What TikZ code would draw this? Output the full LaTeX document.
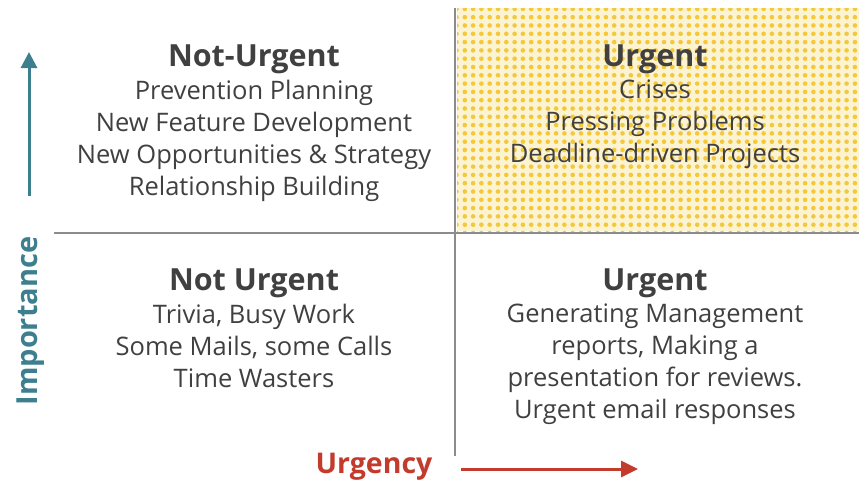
\documentclass[tikz,border=0pt]{standalone}
\usepackage{fontspec}
\setmainfont{Open Sans}
\usepackage{tikz}
\usetikzlibrary{patterns.meta,positioning,arrows.meta}
\definecolor{txtgray}{HTML}{404040}
\definecolor{axisteal}{HTML}{3D7F8E}
\definecolor{axisred}{HTML}{C23B2D}
\definecolor{gridgray}{HTML}{8C8C8C}
\definecolor{dotyellow}{HTML}{F3C83A}
\definecolor{paleyellow}{HTML}{FCF3D2}
\tikzset{
    heading/.style={
           text=txtgray,
           font=\fontsize{30.5}{34}\selectfont\bfseries,
           inner sep=0pt,
           anchor=center,
           },
    itemlist/.style={
           text=txtgray,
           font=\fontsize{25.5}{32}\selectfont,
           align=center,
           inner sep=0pt,
           anchor=north,
           },
    gridline/.style={
           draw=gridgray,
           line width=2.6pt,
           },
}

\begin{document}
\begin{tikzpicture}[x=1pt,y=-1pt]
    \useasboundingbox (0,0) rectangle (859,482);

    % shaded quadrant: important and urgent
    \fill[paleyellow] (457,8) rectangle (859,231);
    \fill[pattern={Dots[distance=8.3pt,radius=2.3pt]},pattern color=dotyellow] (457,8) rectangle (859,231);

    % the two axes of the matrix
    \coordinate (vtop) at (455,8);
    \coordinate (vbot) at (455,456);
    \coordinate (hleft) at (54,233);
    \coordinate (hright) at (859,233);
    \draw[gridline] (vtop) -- (vbot);
    \draw[gridline] (hleft) -- (hright);

    % top left quadrant
    \node[heading] (tlhead) at (254,59) {Not-Urgent};
    \node[itemlist, below=6pt of tlhead.south] (tlbody)
    {Prevention Planning\\New Feature Development\\New Opportunities \& Strategy\\Relationship Building};

    % top right quadrant
    \node[heading] (trhead) at (655,59) {Urgent};
    \node[itemlist, below=6pt of trhead.south] (trbody)
    {Crises\\Pressing Problems\\Deadline-driven Projects};

    % bottom left quadrant
    \node[heading] (blhead) at (254,283) {Not Urgent};
    \node[itemlist, below=6pt of blhead.south] (blbody)
    {Trivia, Busy Work\\Some Mails, some Calls\\Time Wasters};

    % bottom right quadrant
    \node[heading] (brhead) at (655,283) {Urgent};
    \node[itemlist, below=6pt of brhead.south] (brbody)
    {Generating Management\\reports, Making a\\presentation for reviews.\\Urgent email responses};

    % axis labels and arrows
    \node[text=axisteal, font=\fontsize{29}{32}\selectfont\bfseries,
    rotate=90, anchor=center] (implabel) at (31,321) {Importance};
    \coordinate (impfrom) at (29,196);
    \coordinate (impto) at (29,52);
    \draw[axisteal, line width=3pt, -{Triangle[length=16pt,width=16pt]}] (impfrom) -- (impto);

    \node[text=axisred, font=\fontsize{28.5}{32}\selectfont\bfseries,
    anchor=center] (urglabel) at (374,467) {Urgency};
    \coordinate (urgfrom) at (461,469);
    \coordinate (urgto) at (638,469);
    \draw[axisred, line width=3pt, -{Triangle[length=17pt,width=16pt]}] (urgfrom) -- (urgto);
\end{tikzpicture}
\end{document}
